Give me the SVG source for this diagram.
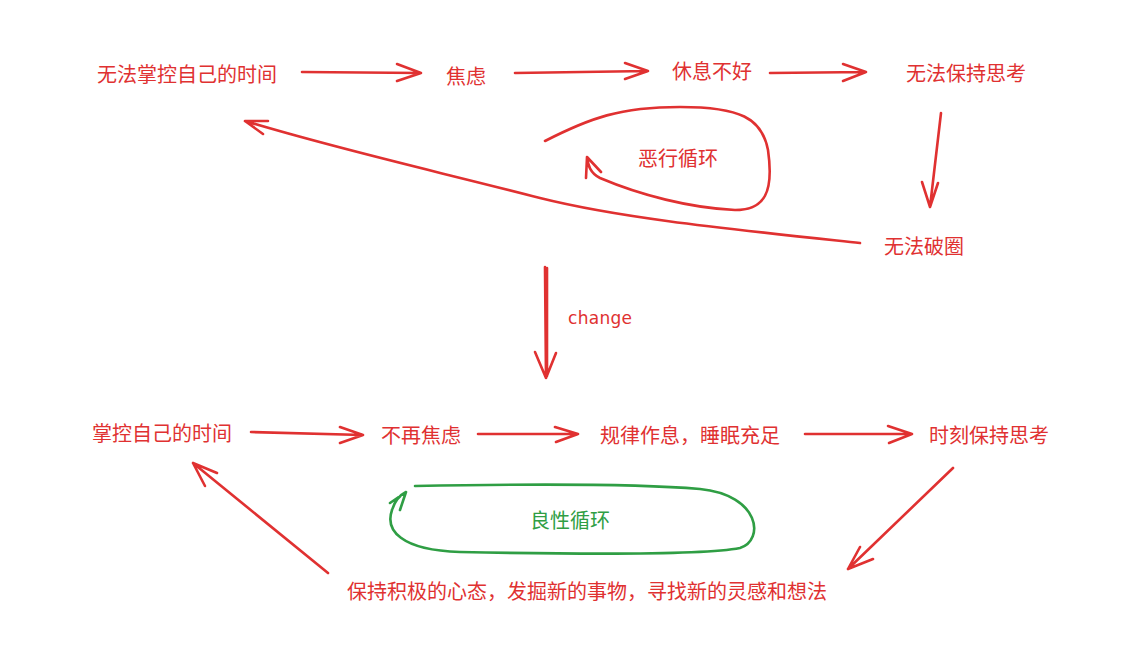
<svg xmlns="http://www.w3.org/2000/svg" width="1132" height="655" viewBox="0 0 1132 655">
<style>
.t{font-family:"Noto Sans CJK SC","Noto Sans",sans-serif;font-size:20px;fill:#e03131;dominant-baseline:central}
.g{fill:#2f9e44}
.r{fill:none;stroke:#e03131;stroke-width:2.6;stroke-linecap:round;stroke-linejoin:round}
.gr{fill:none;stroke:#2f9e44;stroke-width:2.6;stroke-linecap:round;stroke-linejoin:round}
.hand{font-family:"DejaVu Sans",sans-serif;font-size:17px;fill:#e03131;dominant-baseline:central}
</style>
<rect width="1132" height="655" fill="#ffffff"/>
<g id="n1"><text class="t" x="97" y="73">无法掌控自己的时间</text></g>
<g id="n2"><text class="t" x="446" y="75">焦虑</text></g>
<g id="n3"><text class="t" x="672" y="70">休息不好</text></g>
<g id="n4"><text class="t" x="906" y="72">无法保持思考</text></g>
<g id="n5"><text class="t" x="884" y="245">无法破圈</text></g>
<g id="l1"><text class="t" x="638" y="157">恶行循环</text></g>
<g id="l2"><text class="hand" x="568" y="318" textLength="64">change</text></g>
<g id="m1"><text class="t" x="92" y="432">掌控自己的时间</text></g>
<g id="m2"><text class="t" x="381" y="434">不再焦虑</text></g>
<g id="m3"><text class="t" x="600" y="434">规律作息，睡眠充足</text></g>
<g id="m4"><text class="t" x="929" y="434">时刻保持思考</text></g>
<g id="m5"><text class="t" x="347" y="590">保持积极的心态，发掘新的事物，寻找新的灵感和想法</text></g>
<g id="l3"><text class="t g" x="530" y="519">良性循环</text></g>
<g id="connectors">
<path class="r" d="M302,72 L421,73 M397,64 L421,73 L397,81"/>
<path class="r" d="M515,73 L648,71 M625,63 L648,71 L625,79"/>
<path class="r" d="M770,73 L866,72 M843,64 L866,72 L843,81"/>
<path class="r" d="M941,113 L930,207 M922,182 L930,207 L938,183"/>
<path class="r" d="M860,243 C720,228 620,218 540,198 C440,172 340,150 245,121 M268,121 L245,121 L263,134"/>
<path class="r" d="M545,141 C590,118 620,107 680,107 C740,107 762,118 768,150 C774,192 765,210 735,210 C690,208 640,195 600,178 C590,173 588,165 587,157 M586,178 L587,157 L601,172"/>
<path class="r" d="M545,267 L546,378 M547,268 L547,376 M535,352 L546,378 L556,353"/>
<path class="r" d="M251,432 L363,435 M340,427 L363,435 L340,443"/>
<path class="r" d="M478,434 L578,434 M555,427 L578,434 L556,442"/>
<path class="r" d="M805,434 L912,434 M888,426 L912,434 L889,443"/>
<path class="r" d="M953,468 L848,569 M860,547 L848,569 L873,559"/>
<path class="r" d="M328,573 L193,463 M217,473 L193,463 L205,486"/>
<path class="gr" d="M415,486 C520,484 640,484 700,489 C760,495 765,540 740,548 C700,556 560,554 460,552 C400,550 385,530 392,510 C395,500 400,495 406,492 M390,503 L406,492 L400,510"/>
</g>
</svg>
